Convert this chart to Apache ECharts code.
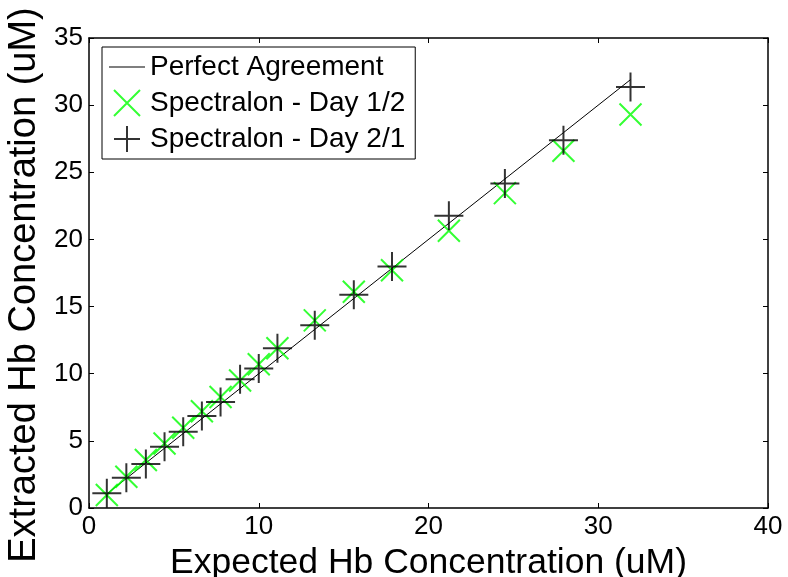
<!DOCTYPE html>
<html><head><meta charset="utf-8">
<script src="https://cdn.jsdelivr.net/npm/echarts@6/dist/echarts.min.js"></script>
<style>html,body{margin:0;padding:0;background:#fff}#c{width:788px;height:577px}</style>
</head><body><div id="c"></div>
<script>
const expected = [1.05, 2.2, 3.35, 4.45, 5.55, 6.65, 7.75, 8.9, 10.0, 11.1, 13.3, 15.6, 17.85, 21.2, 24.5, 27.95, 31.9];
const day12 = [0.97, 2.33, 3.57, 4.8, 5.97, 7.2, 8.27, 9.5, 10.7, 11.9, 13.97, 16.1, 17.7, 20.65, 23.45, 26.6, 29.3];
const day21 = [1.09, 2.25, 3.27, 4.56, 5.67, 6.86, 7.9, 9.58, 10.38, 11.9, 13.6, 15.88, 17.98, 21.77, 24.17, 27.39, 31.35];
const xTicks = [0, 10, 20, 30, 40];
const yTicks = [0, 5, 10, 15, 20, 25, 30, 35];
const names = ['Perfect Agreement', 'Spectralon - Day 1/2', 'Spectralon - Day 2/1'];

const font = '"Liberation Sans", Arial, sans-serif';
const plusPath = 'path://M16,0L16,32M0,16L32,16';
const crossPath = 'path://M0,0L22,22M0,22L22,0';

const chart = echarts.init(document.getElementById('c'));
function ax(extra) {
  return Object.assign({
    type: 'value', splitLine: {show: false},
    axisLine: {show: true, onZero: false, lineStyle: {color: '#000', width: 1.5}},
    axisTick: {show: true, inside: true, length: 5, lineStyle: {color: '#000'}}
  }, extra);
}
chart.setOption({
  animation: false,
  backgroundColor: '#fff',
  grid: {left: 89, right: 20, top: 38, bottom: 69, outerBoundsMode: 'none', containLabel: false},
  xAxis: [
    ax({min: xTicks[0], max: xTicks[xTicks.length-1], interval: 10, position: 'bottom',
      name: 'Expected Hb Concentration (uM)', nameLocation: 'middle', nameGap: 31,
      nameTextStyle: {fontFamily: font, fontSize: 35.5, color: '#000'},
      axisLabel: {fontFamily: font, fontSize: 26, color: '#000', margin: 6}}),
    ax({min: xTicks[0], max: xTicks[xTicks.length-1], interval: 10, position: 'top', axisLabel: {show: false}})
  ],
  yAxis: [
    ax({min: yTicks[0], max: yTicks[yTicks.length-1], interval: 5, position: 'left',
      name: 'Extracted Hb Concentration (uM)', nameLocation: 'middle', nameGap: 42,
      nameTextStyle: {fontFamily: font, fontSize: 38, color: '#000', padding: [0, 24, 0, 0]},
      axisLabel: {fontFamily: font, fontSize: 26, color: '#000', margin: 6}}),
    ax({min: yTicks[0], max: yTicks[yTicks.length-1], interval: 5, position: 'right', axisLabel: {show: false}})
  ],
  legend: {
    orient: 'vertical', left: 102, top: 47, padding: [6, 10, 6, 7],
    borderColor: '#000', borderWidth: 1, backgroundColor: '#fff',
    itemWidth: 36, itemHeight: 26, itemGap: 8,
    textStyle: {fontFamily: font, fontSize: 28, color: '#000'},
    data: [
      {name: names[0], icon: 'path://M0,0L40,0L40,1L0,1Z', itemStyle: {color: '#000', borderWidth: 0}},
      {name: names[1]},
      {name: names[2]}
    ]
  },
  series: [
    {name: names[0], type: 'line', symbol: 'none', data: expected.map(v => [v, v]),
     lineStyle: {color: '#000', width: 1}, itemStyle: {color: '#000'}, z: 1},
    {name: names[1], type: 'scatter', symbol: crossPath, symbolSize: 22,
     data: expected.map((v, i) => [v, day12[i]]),
     itemStyle: {color: 'transparent', borderColor: '#00ff00', borderWidth: 2}, z: 2},
    {name: names[2], type: 'scatter', symbol: plusPath, symbolSize: 29,
     data: expected.map((v, i) => [v, day21[i]]),
     itemStyle: {color: 'transparent', borderColor: '#000', borderWidth: 2}, z: 3}
  ]
});
</script></body></html>
